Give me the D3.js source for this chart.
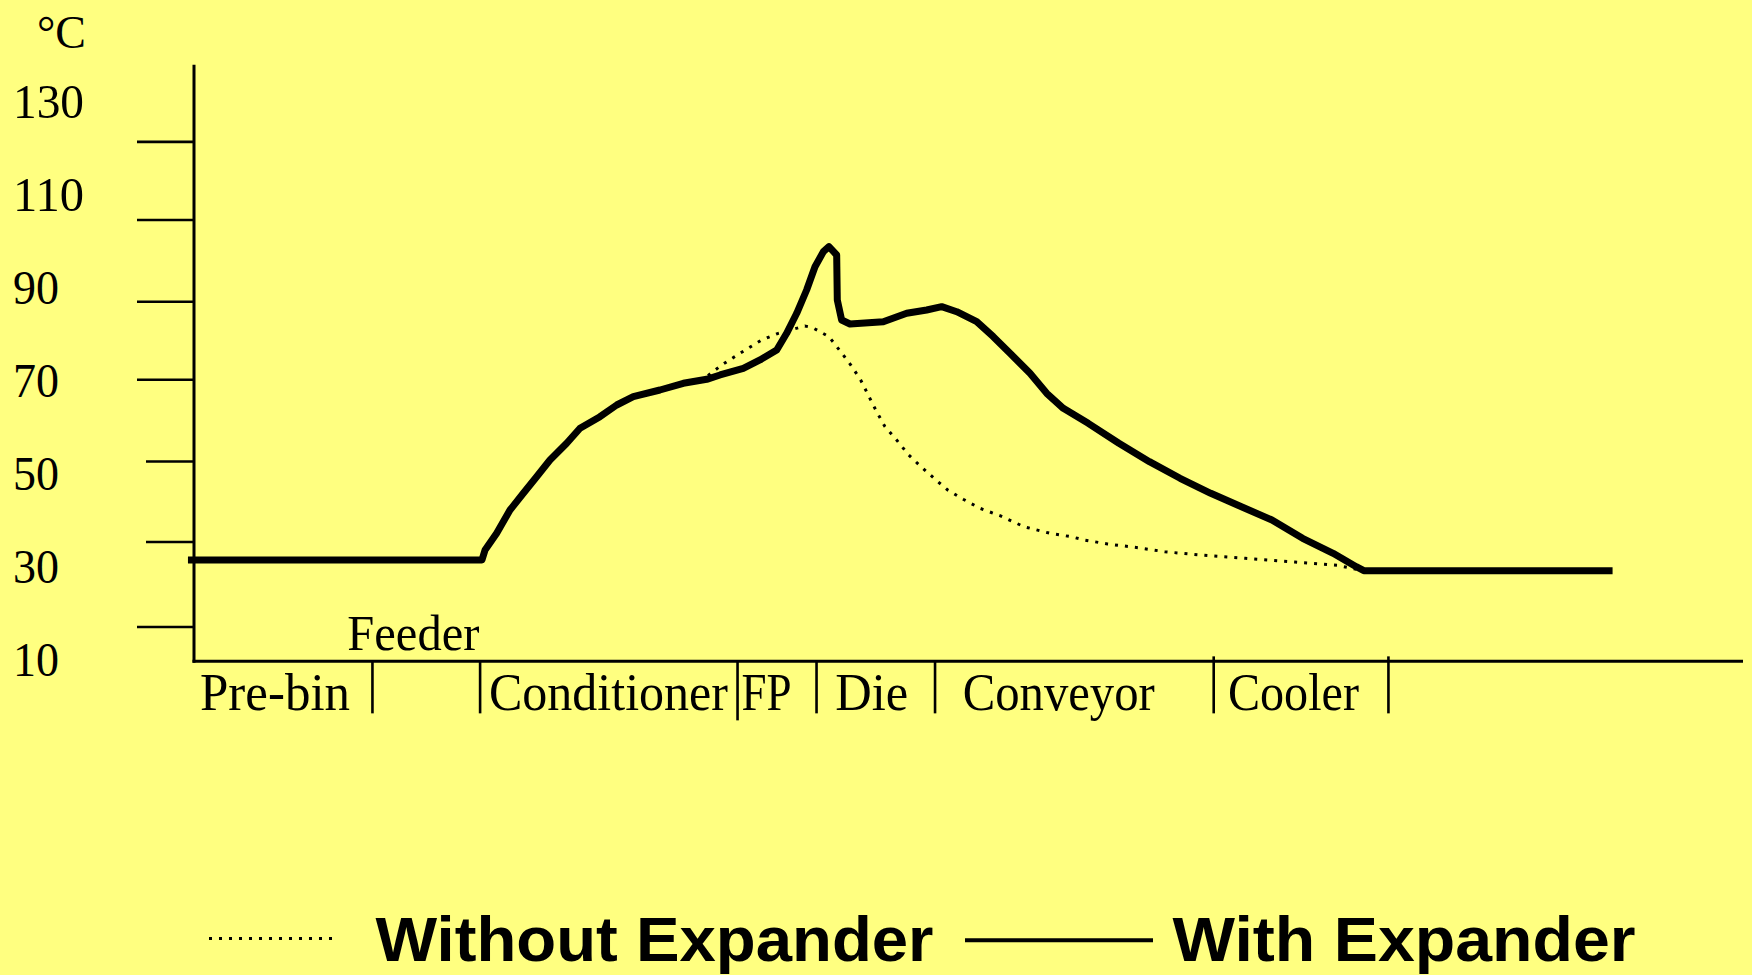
<!DOCTYPE html>
<html><head><meta charset="utf-8">
<script src="https://cdn.jsdelivr.net/npm/d3@7"></script>
<style>
html,body{margin:0;padding:0;background:#ffff80;}
svg{display:block;background:#ffff80;}
</style></head>
<body>
<svg id="chart" width="1752" height="975"></svg>
<script>
// ---- data ----
const yTickLabels = [130, 110, 90, 70, 50, 30, 10];
const yTickMarks = [121.4, 104.6, 87.0, 70.2, 52.6, 35.3, 17.0];
const stageNames = ["Pre-bin", "Conditioner", "FP", "Die", "Conveyor", "Cooler"];
const stageLabelStart = [0.39, 19.04, 35.35, 41.39, 49.63, 66.75];
const stageLabelWidth = [150, 239, 50, 73, 192, 131];
const stageBoundaries = [11.52, 18.47, 35.09, 40.19, 47.84, 65.83, 77.11];
const feederLabel = "Feeder";
const feederStart = 9.9;
const withX = [-0.39, 18.59, 18.79, 19.54, 20.40, 21.26, 22.12, 22.98, 24.06, 24.92, 26.21, 27.29, 28.36, 30.08, 31.59, 33.10, 33.96, 35.46, 36.54, 37.62, 38.26, 38.91, 39.55, 40.09, 40.63, 40.99, 41.49, 41.53, 41.81, 42.35, 44.50, 46.01, 47.30, 48.27, 49.24, 50.53, 51.60, 52.68, 53.97, 55.05, 56.12, 57.73, 59.71, 61.68, 63.66, 65.64, 67.62, 69.59, 71.57, 73.54, 75.03, 75.52, 91.58];
const withY = [31.41, 31.41, 33.57, 37.16, 42.17, 45.77, 49.34, 52.93, 56.53, 59.76, 62.25, 64.77, 66.56, 68.0, 69.44, 70.3, 71.23, 72.67, 74.46, 76.61, 80.2, 84.51, 89.52, 94.53, 97.76, 98.84, 97.05, 87.37, 83.06, 82.2, 82.7, 84.51, 85.22, 85.93, 84.85, 82.7, 79.47, 75.9, 71.59, 67.29, 64.06, 60.83, 56.53, 52.57, 49.0, 45.77, 42.88, 40.02, 36.08, 32.86, 29.97, 29.11, 29.11];
const withoutX = [32.67, 34.07, 35.14, 36.65, 37.72, 39.44, 39.94, 40.99, 41.75, 42.40, 43.04, 43.58, 44.07, 44.61, 45.36, 46.14, 46.87, 47.90, 48.66, 49.66, 50.74, 52.03, 53.58, 55.26, 56.62, 57.48, 58.97, 60.94, 62.67, 64.90, 67.86, 71.07, 73.79, 75.52];
const withoutY = [69.79, 73.38, 75.68, 78.76, 80.2, 81.77, 81.41, 79.47, 76.24, 73.38, 70.15, 66.56, 63.33, 60.1, 57.24, 54.01, 51.71, 48.63, 46.48, 44.48, 42.54, 40.95, 38.58, 37.16, 36.43, 35.72, 34.86, 34.06, 33.2, 32.49, 31.78, 30.98, 30.27, 29.11];
const unitLabel = "°C";
const legendNames = ["Without Expander", "With Expander"];

// ---- scales ----
const svg = d3.select("#chart");
const x = d3.scaleLinear().domain([0, 100]).range([194, 1743]);
const y = d3.scaleLinear().domain([10, 130]).range([659.5, 101.9]);
const axisBottomVal = 9.6, axisTopVal = 138;
const ink = "#000";

// y axis line
svg.append("line").attr("x1", x(0)).attr("x2", x(0))
  .attr("y1", y(axisTopVal)).attr("y2", y(axisBottomVal) + 1.5)
  .attr("stroke", ink).attr("stroke-width", 3);
// x axis line
svg.append("line").attr("x1", x(0) - 1.5).attr("x2", x(100))
  .attr("y1", y(axisBottomVal)).attr("y2", y(axisBottomVal))
  .attr("stroke", ink).attr("stroke-width", 3);

// y tick marks
const shortTicks = new Set([52.6, 35.3]);
svg.selectAll(".ytick").data(yTickMarks).join("line")
  .attr("x1", d => x(0) - (shortTicks.has(d) ? 48 : 57)).attr("x2", x(0))
  .attr("y1", d => y(d)).attr("y2", d => y(d))
  .attr("stroke", ink).attr("stroke-width", 2.6);

// y labels
svg.selectAll(".ylab").data(yTickLabels).join("text")
  .attr("x", 13).attr("y", d => y(d) + 16.5)
  .attr("font-family", "Liberation Serif, serif").attr("font-size", 49)
  .attr("fill", ink)
  .attr("textLength", d => d >= 100 ? 71 : 46).attr("lengthAdjust", "spacingAndGlyphs")
  .text(d => d);

// unit
svg.append("text").attr("x", 37).attr("y", 48)
  .attr("font-family", "Liberation Serif, serif").attr("font-size", 46)
  .attr("textLength", 49).attr("lengthAdjust", "spacingAndGlyphs")
  .attr("fill", ink).text(unitLabel);

// stage separators
const axY = y(axisBottomVal);
svg.selectAll(".sep").data(stageBoundaries).join("line")
  .attr("x1", d => x(d)).attr("x2", d => x(d))
  .attr("y1", (d, i) => i >= 5 ? axY - 5 : axY)
  .attr("y2", (d, i) => i === 2 ? axY + 59 : axY + 52)
  .attr("stroke", ink).attr("stroke-width", 2.6);

// stage labels
svg.selectAll(".stage").data(stageNames).join("text")
  .attr("x", (d, i) => x(stageLabelStart[i])).attr("y", axY + 49)
  .attr("font-family", "Liberation Serif, serif").attr("font-size", 52)
  .attr("fill", ink)
  .attr("textLength", (d, i) => stageLabelWidth[i]).attr("lengthAdjust", "spacingAndGlyphs")
  .text(d => d);

svg.append("text").attr("x", x(feederStart)).attr("y", axY - 11)
  .attr("font-family", "Liberation Serif, serif").attr("font-size", 50)
  .attr("fill", ink).attr("textLength", 132).attr("lengthAdjust", "spacingAndGlyphs")
  .text(feederLabel);

// series
const line = d3.line().x(d => x(d[0])).y(d => y(d[1])).curve(d3.curveLinear);
const withoutPts = withoutX.map((v, i) => [v, withoutY[i]]);
const withPts = withX.map((v, i) => [v, withY[i]]);
svg.append("path").attr("d", line(withoutPts))
  .attr("fill", "none").attr("stroke", ink).attr("stroke-width", 3)
  .attr("stroke-dasharray", "3,7");
svg.append("path").attr("d", line(withPts))
  .attr("fill", "none").attr("stroke", ink).attr("stroke-width", 7)
  .attr("stroke-linejoin", "round");

// legend
svg.append("line").attr("x1", 209).attr("x2", 333).attr("y1", 938.5).attr("y2", 938.5)
  .attr("stroke", ink).attr("stroke-width", 3).attr("stroke-dasharray", "3,7");
svg.append("text").attr("x", 375.5).attr("y", 961)
  .attr("font-family", "Liberation Sans, Arial, sans-serif").attr("font-size", 63).attr("font-weight", "bold")
  .attr("textLength", 558).attr("lengthAdjust", "spacingAndGlyphs")
  .attr("fill", ink).text(legendNames[0]);
svg.append("line").attr("x1", 965).attr("x2", 1153).attr("y1", 940.3).attr("y2", 940.3)
  .attr("stroke", ink).attr("stroke-width", 4);
svg.append("text").attr("x", 1172.5).attr("y", 961)
  .attr("font-family", "Liberation Sans, Arial, sans-serif").attr("font-size", 63).attr("font-weight", "bold")
  .attr("textLength", 463).attr("lengthAdjust", "spacingAndGlyphs")
  .attr("fill", ink).text(legendNames[1]);
</script>
</body></html>
